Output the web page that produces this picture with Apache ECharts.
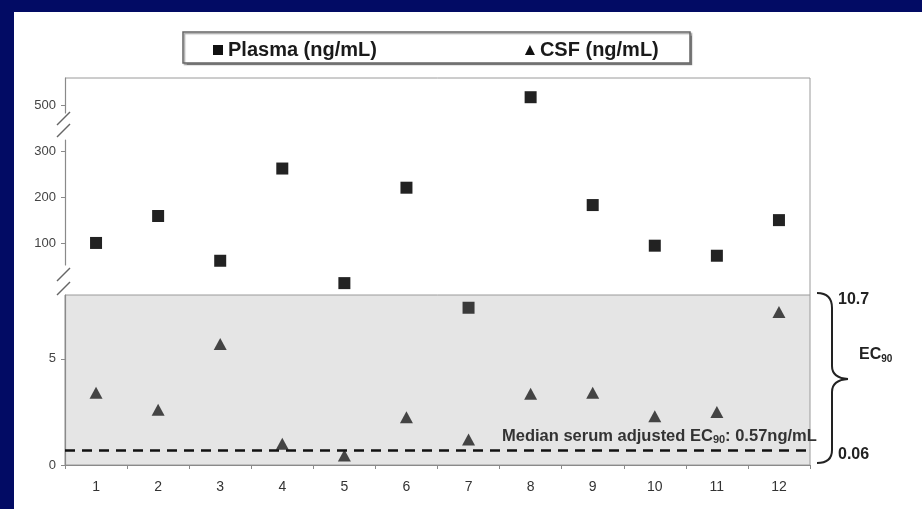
<!DOCTYPE html>
<html>
<head>
<meta charset="utf-8">
<script src="https://cdn.jsdelivr.net/npm/echarts@6/dist/echarts.min.js"></script>
<style>
  html, body { margin: 0; padding: 0; width: 922px; height: 509px; overflow: hidden; background: #020b64; }
  #panel { position: absolute; left: 14px; top: 12px; right: 0; bottom: 0; background: #ffffff; }
  #chart { position: absolute; left: 0; top: 0; width: 922px; height: 509px; }
</style>
</head>
<body>
<div id="panel"></div>
<div id="chart"></div>
<script>
// ---- data ----
const categories = ['1','2','3','4','5','6','7','8','9','10','11','12'];
const plasma = [100, 159, 61, 263, 12, 221, 7.4, 517, 183, 94, 72, 150];   // ng/mL
const csf = [3.4, 2.6, 5.7, 1.0, 0.45, 2.25, 1.2, 3.35, 3.4, 2.3, 2.5, 7.2]; // ng/mL
const medianLineValue = [0.7];           // drawn position of the median EC90 line
const topTicks = [500];
const midTicks = [100, 200, 300];
const lowTicks = [0, 5];
const ec90Labels = ['10.7', '0.06'];
const seriesNames = ['Plasma (ng/mL)', 'CSF (ng/mL)'];

// ---- layout ----
const W = 922, H = 509;
const L = 65, R = 810;
const T0 = 78, B0 = 113;     // top panel (above break)
const T1 = 140, B1 = 265;    // middle panel
const T2 = 295, B2 = 465;    // lower grey panel
const axisGrey = '#8a8a8a';
const labelCol = '#444';

const chart = echarts.init(document.getElementById('chart'), null, { renderer: 'canvas' });

function yAx(gi, min, max, ticks) {
  return {
    type: 'value', gridIndex: gi, min: min, max: max,
    axisLine: { show: true, lineStyle: { color: axisGrey, width: 1.2 } },
    axisTick: { show: true, length: 4, customValues: ticks, lineStyle: { color: axisGrey } },
    axisLabel: { show: true, customValues: ticks, color: labelCol, fontSize: 13, margin: 9, fontFamily: 'Liberation Sans, Arial, sans-serif' },
    splitLine: { show: false }
  };
}
function xAx(gi, show) {
  return {
    type: 'category', gridIndex: gi, data: categories, boundaryGap: true, show: show,
    axisLine: { show: true, lineStyle: { color: axisGrey, width: 1.2 } },
    axisTick: { show: true, length: 4, inside: false, lineStyle: { color: axisGrey } },
    axisLabel: { color: '#333', fontSize: 14, margin: 15, fontFamily: 'Liberation Sans Narrow, Liberation Sans, Arial, sans-serif' },
    splitLine: { show: false }
  };
}

const sqStyle = { color: '#222', opacity: 1 };
const triStyle = { color: '#444', opacity: 1 };
const braceStyle = { stroke: '#222', lineWidth: 2, fill: null };
const boldFont = 'Liberation Sans, Arial, sans-serif';

const option = {
  backgroundColor: 'transparent',
  animation: false,
  grid: [
    { left: L, right: W - R, top: T0, height: B0 - T0 },
    { left: L, right: W - R, top: T1, height: B1 - T1 },
    { left: L, right: W - R, top: T2, height: B2 - T2, show: true, backgroundColor: '#e5e5e5', borderColor: '#9a9a9a', borderWidth: 1 }
  ],
  xAxis: [xAx(0, false), xAx(1, false), xAx(2, true)],
  yAxis: [
    yAx(0, 482.5, 559, topTicks),
    yAx(1, 51.7, 325.5, midTicks),
    yAx(2, 0, 8, lowTicks)
  ],
  legend: {
    left: 208, top: 35, itemWidth: 10, itemHeight: 10, itemGap: 148,
    selectedMode: false,
    textStyle: { fontSize: 20, fontWeight: 'bold', color: '#1a1a1a', fontFamily: boldFont },
    data: [
      { name: seriesNames[0], icon: 'rect', itemStyle: { color: '#111', opacity: 1 } },
      { name: seriesNames[1], icon: 'triangle', itemStyle: { color: '#111', opacity: 1 } }
    ]
  },
  series: [
    { name: seriesNames[0], type: 'scatter', xAxisIndex: 0, yAxisIndex: 0, clip: false,
      symbol: 'rect', symbolSize: 12, itemStyle: sqStyle,
      data: plasma.map(v => v > 400 ? v : '-') },
    { name: seriesNames[0], type: 'scatter', xAxisIndex: 1, yAxisIndex: 1, clip: false,
      symbol: 'rect', symbolSize: 12, itemStyle: sqStyle,
      data: plasma.map(v => (v >= 8.5 && v <= 400) ? v : '-') },
    { name: seriesNames[0], type: 'scatter', xAxisIndex: 2, yAxisIndex: 2, clip: false,
      symbol: 'rect', symbolSize: 12, itemStyle: { color: '#3a3a3a', opacity: 1 },
      data: plasma.map(v => v < 8.5 ? v : '-') },
    { name: seriesNames[1], type: 'scatter', xAxisIndex: 2, yAxisIndex: 2, clip: false,
      symbol: 'triangle', symbolSize: [13, 12], itemStyle: triStyle,
      data: csf,
      markLine: {
        silent: true, symbol: 'none',
        lineStyle: { color: '#111', width: 2.5, type: [10, 7] },
        label: { show: false },
        data: medianLineValue.map(v => ({ yAxis: v }))
      }
    }
  ],
  graphic: [
    // frame: top + right edge of the upper panels
    { type: 'polyline', shape: { points: [[L, T0], [R, T0], [R, T2]] }, style: { stroke: '#9a9a9a', lineWidth: 1, fill: null } },
    // axis break marks
    { type: 'line', shape: { x1: L - 8, y1: B0 + 12, x2: L + 5, y2: B0 - 1 }, style: { stroke: '#666', lineWidth: 1.5 } },
    { type: 'line', shape: { x1: L - 8, y1: B0 + 24, x2: L + 5, y2: B0 + 11 }, style: { stroke: '#666', lineWidth: 1.5 } },
    { type: 'line', shape: { x1: L - 8, y1: B1 + 16, x2: L + 5, y2: B1 + 3 }, style: { stroke: '#666', lineWidth: 1.5 } },
    { type: 'line', shape: { x1: L - 8, y1: B1 + 30, x2: L + 5, y2: B1 + 17 }, style: { stroke: '#666', lineWidth: 1.5 } },
    // legend box
    { type: 'rect', shape: { x: 183, y: 32, width: 507, height: 31 },
      style: { fill: '#fff', stroke: '#666', lineWidth: 1.5, shadowColor: 'rgba(0,0,0,0.35)', shadowOffsetX: 1.5, shadowOffsetY: 1.5, shadowBlur: 1 }, z: -1 },
    // brace
    { type: 'bezierCurve', shape: { x1: 817, y1: 293, cpx1: 832, cpy1: 293, x2: 832, y2: 308 }, style: braceStyle },
    { type: 'line', shape: { x1: 832, y1: 308, x2: 832, y2: 366 }, style: braceStyle },
    { type: 'bezierCurve', shape: { x1: 832, y1: 366, cpx1: 832, cpy1: 378, x2: 848, y2: 379 }, style: braceStyle },
    { type: 'bezierCurve', shape: { x1: 848, y1: 379, cpx1: 832, cpy1: 380, x2: 832, y2: 392 }, style: braceStyle },
    { type: 'line', shape: { x1: 832, y1: 392, x2: 832, y2: 450 }, style: braceStyle },
    { type: 'bezierCurve', shape: { x1: 832, y1: 450, cpx1: 832, cpy1: 463, x2: 817, y2: 463 }, style: braceStyle },
    { type: 'text', x: 838, y: 300, style: { text: ec90Labels[0], fill: '#222', font: 'bold 16px ' + boldFont, verticalAlign: 'middle' } },
    { type: 'text', x: 838, y: 455, style: { text: ec90Labels[1], fill: '#222', font: 'bold 16px ' + boldFont, verticalAlign: 'middle' } },
    { type: 'text', x: 859, y: 355, style: {
        text: '{a|EC}{s|90}', verticalAlign: 'middle',
        rich: {
          a: { fontSize: 16, fontWeight: 'bold', fill: '#222', fontFamily: boldFont },
          s: { fontSize: 10, fontWeight: 'bold', fill: '#222', fontFamily: boldFont, padding: [8, 0, 0, 0] }
        } } },
    { type: 'text', x: 502, y: 436, style: {
        text: '{a|Median serum adjusted EC}{s|90}{a|: 0.57ng/mL}', verticalAlign: 'middle',
        rich: {
          a: { fontSize: 16.5, fontWeight: 'bold', fill: '#333', fontFamily: boldFont },
          s: { fontSize: 11, fontWeight: 'bold', fill: '#333', fontFamily: boldFont, padding: [7, 0, 0, 0] }
        } } }
  ]
};
chart.setOption(option);
</script>
</body>
</html>
